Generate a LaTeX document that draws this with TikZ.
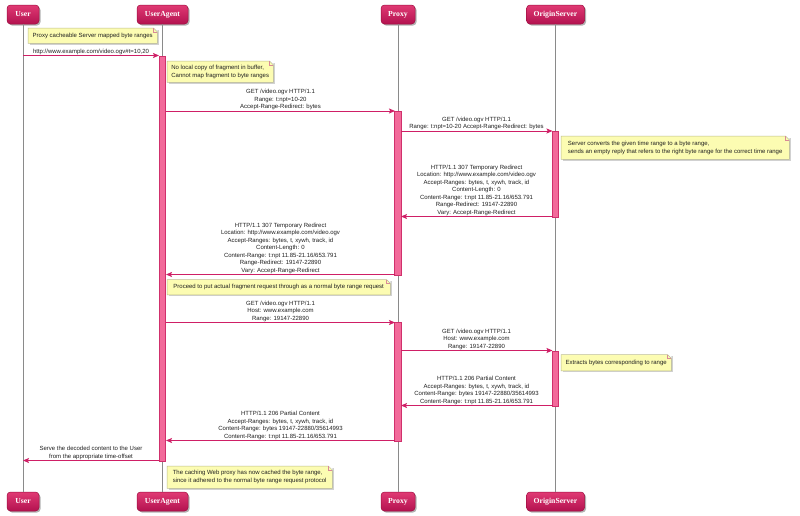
\documentclass[tikz,border=0pt]{standalone}
\usepackage{fontspec}
\setmainfont{Liberation Sans}
\newfontfamily\pfont{Liberation Serif}
\usetikzlibrary{arrows.meta}
\definecolor{arrowc}{HTML}{CF1F66}
\definecolor{ptop}{HTML}{E03A74}
\definecolor{pbot}{HTML}{B3124F}
\definecolor{pbord}{HTML}{9E0F40}
\definecolor{barfill}{HTML}{F26A9A}
\definecolor{bardraw}{HTML}{D0306C}
\definecolor{notefill}{HTML}{FCFCB2}
\definecolor{notedraw}{HTML}{BDBD8C}
\definecolor{foldc}{HTML}{D88A98}
\definecolor{lifec}{HTML}{8A8A8A}
\definecolor{txtc}{HTML}{202020}
\newcommand\mknote[1]{%
  \fill[white] (#1.north east) -- ([xshift=-4pt]#1.north east) -- ([yshift=-4pt]#1.north east) -- cycle;
  \draw[notedraw, line width=0.5pt] ([xshift=-4pt]#1.north east) -- (#1.north west) -- (#1.south west) -- (#1.south east) -- ([yshift=-4pt]#1.north east) -- cycle;
  \draw[foldc, line width=0.5pt] ([xshift=-4pt]#1.north east) -- ([xshift=-4pt,yshift=-4pt]#1.north east) -- ([yshift=-4pt]#1.north east);
}
\begin{document}
\begin{tikzpicture}[x=1pt,y=-1pt,
  part/.style={rounded corners=3.5pt, top color=ptop, bottom color=pbot, draw=pbord, line width=0.5pt,
    minimum height=19pt, inner sep=0pt, text=white, font=\pfont\bfseries\fontsize{7.7}{9}\selectfont,
    preaction={fill=black, opacity=0.3, transform canvas={xshift=1.5pt,yshift=-1.5pt}}},
  lifeline/.style={draw=lifec, line width=0.8pt},
  actbar/.style={fill=barfill, draw=bardraw, line width=0.6pt, minimum width=6.5pt, inner sep=0pt, anchor=north},
  msg/.style={draw=arrowc, line width=0.9pt, -{Stealth[length=6pt,width=5pt,inset=1.2pt]}},
  lbl/.style={anchor=south, inner sep=0pt, align=center, text=txtc, font=\fontsize{6}{7.5}\selectfont},
  notestyle/.style={anchor=north west, fill=notefill, inner xsep=3pt, inner ysep=0pt, align=left, text=txtc,
    font=\fontsize{6}{7.7}\selectfont,
    preaction={fill=black, opacity=0.18, transform canvas={xshift=1.5pt,yshift=-1.5pt}}}
]
\useasboundingbox (0,0) rectangle (800,515);
\fill[white] (0,0) rectangle (800,515);

% participants
\node[part, minimum width=32pt] (uTop) at (23,14.5) {User};
\node[part, minimum width=51pt] (aTop) at (162.5,14.5) {UserAgent};
\node[part, minimum width=34pt] (pTop) at (398,14.5) {Proxy};
\node[part, minimum width=58pt] (oTop) at (555.5,14.5) {OriginServer};
\node[part, minimum width=32pt] (uBot) at (23,501.5) {User};
\node[part, minimum width=51pt] (aBot) at (162.5,501.5) {UserAgent};
\node[part, minimum width=34pt] (pBot) at (398,501.5) {Proxy};
\node[part, minimum width=58pt] (oBot) at (555.5,501.5) {OriginServer};

% lifelines
\draw[lifeline] (uTop.south) -- (uBot.north);
\draw[lifeline] (aTop.south) -- (aBot.north);
\draw[lifeline] (pTop.south) -- (pBot.north);
\draw[lifeline] (oTop.south) -- (oBot.north);

% activation bars
\node[actbar, minimum height=405pt] (actA) at (162.5,56) {};
\node[actbar, minimum height=163.5pt] (actP1) at (398,111) {};
\node[actbar, minimum height=119pt] (actP2) at (398,322) {};
\node[actbar, minimum height=86pt] (actO1) at (555.5,131) {};
\node[actbar, minimum height=55.5pt] (actO2) at (555.5,350.5) {};

% message end points
\coordinate (s1) at (23,55.5);    \coordinate (e1) at (159,55.5);
\coordinate (s3) at (166,111);    \coordinate (e3) at (395,111);
\coordinate (s4) at (401,131);    \coordinate (e4) at (552.5,131);
\coordinate (s6) at (552.5,216.5);\coordinate (e6) at (401,216.5);
\coordinate (s7) at (395,274.5);  \coordinate (e7) at (166,274.5);
\coordinate (s9) at (166,322.5);  \coordinate (e9) at (395,322.5);
\coordinate (s10) at (401,350.5); \coordinate (e10) at (552.5,350.5);
\coordinate (s12) at (552.5,405.5);\coordinate (e12) at (401,405.5);
\coordinate (s13) at (395,440.5); \coordinate (e13) at (166,440.5);
\coordinate (s14) at (159,460.5); \coordinate (e14) at (23,460.5);

% messages
\draw[msg] (s1) -- (e1);
\draw[msg] (s3) -- (e3);
\draw[msg] (s4) -- (e4);
\draw[msg] (s6) -- (e6);
\draw[msg] (s7) -- (e7);
\draw[msg] (s9) -- (e9);
\draw[msg] (s10) -- (e10);
\draw[msg] (s12) -- (e12);
\draw[msg] (s13) -- (e13);
\draw[msg] (s14) -- (e14);

% labels
\node[lbl] (l1) at (91,54.8) {http://www.example.com/video.ogv\#t=10,20};
\node[lbl] (l3) at (280.5,110.3) {GET /video.ogv HTTP/1.1\\Range: t:npt=10-20\\Accept-Range-Redirect: bytes};
\node[lbl] (l4) at (476.5,130.3) {GET /video.ogv HTTP/1.1\\Range: t:npt=10-20 Accept-Range-Redirect: bytes};
\node[lbl] (l6) at (476.5,215.8) {HTTP/1.1 307 Temporary Redirect\\Location: http://www.example.com/video.ogv\\Accept-Ranges: bytes, t, xywh, track, id\\Content-Length: 0\\Content-Range: t:npt 11.85-21.16/653.791\\Range-Redirect: 19147-22890\\Vary: Accept-Range-Redirect};
\node[lbl] (l7) at (280.5,273.8) {HTTP/1.1 307 Temporary Redirect\\Location: http://www.example.com/video.ogv\\Accept-Ranges: bytes, t, xywh, track, id\\Content-Length: 0\\Content-Range: t:npt 11.85-21.16/653.791\\Range-Redirect: 19147-22890\\Vary: Accept-Range-Redirect};
\node[lbl] (l9) at (280.5,321.8) {GET /video.ogv HTTP/1.1\\Host: www.example.com\\Range: 19147-22890};
\node[lbl] (l10) at (476.5,349.8) {GET /video.ogv HTTP/1.1\\Host: www.example.com\\Range: 19147-22890};
\node[lbl] (l12) at (476.5,404.8) {HTTP/1.1 206 Partial Content\\Accept-Ranges: bytes, t, xywh, track, id\\Content-Range: bytes 19147-22880/35614993\\Content-Range: t:npt 11.85-21.16/653.791};
\node[lbl] (l13) at (280.5,439.8) {HTTP/1.1 206 Partial Content\\Accept-Ranges: bytes, t, xywh, track, id\\Content-Range: bytes 19147-22880/35614993\\Content-Range: t:npt 11.85-21.16/653.791};
\node[lbl] (l14) at (91,459.8) {Serve the decoded content to the User\\from the appropriate time-offset};

% notes
\node[notestyle, minimum width=129pt, minimum height=15pt] (n1) at (28,28) {Proxy cacheable Server mapped byte ranges};
\mknote{n1}
\node[notestyle, minimum width=106pt, minimum height=21pt] (n2) at (167,61) {No local copy of fragment in buffer,\\Cannot map fragment to byte ranges};
\mknote{n2}
\node[notestyle, minimum width=228pt, minimum height=23pt] (n3) at (561,136) {Server converts the given time range to a byte range,\\sends an empty reply that refers to the right byte range for the correct time range};
\mknote{n3}
\node[notestyle, minimum width=223pt, minimum height=15pt] (n4) at (167,279.5) {Proceed to put actual fragment request through as a normal byte range request};
\mknote{n4}
\node[notestyle, minimum width=110pt, minimum height=16pt] (n5) at (561,354.5) {Extracts bytes corresponding to range};
\mknote{n5}
\node[notestyle, minimum width=165pt, minimum height=22pt] (n6) at (167,466) {The caching Web proxy has now cached the byte range,\\since it adhered to the normal byte range request protocol};
\mknote{n6}
\end{tikzpicture}
\end{document}
